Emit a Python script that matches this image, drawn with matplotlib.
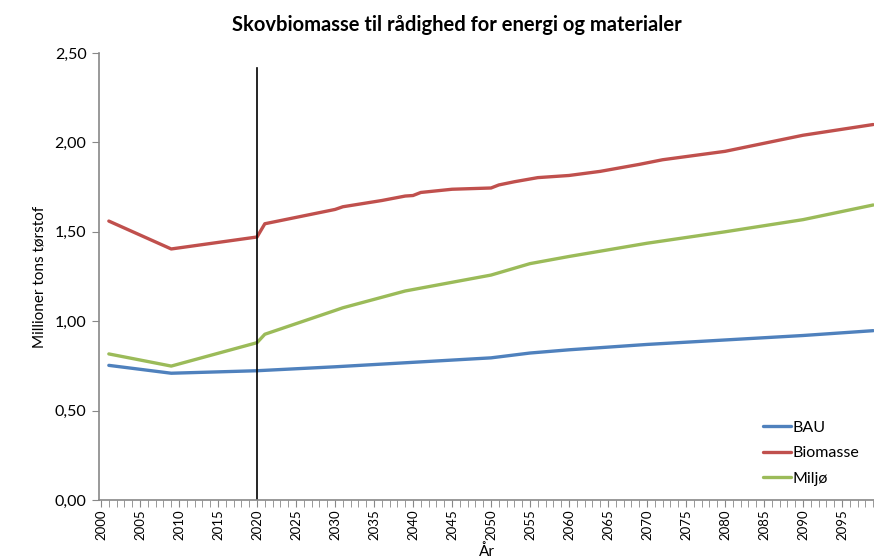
import matplotlib.pyplot as plt
from matplotlib.ticker import MultipleLocator, FuncFormatter

plt.rcParams['font.family'] = ['Lato', 'DejaVu Sans']

# BAU
bau_years = [2001, 2009, 2020, 2030, 2040, 2050, 2055, 2060, 2070, 2080, 2090, 2099]
bau_vals = [0.753, 0.709, 0.723, 0.745, 0.770, 0.795, 0.822, 0.840, 0.870, 0.895, 0.920, 0.947]

# Biomasse
bio_years = [2001, 2009, 2020, 2021, 2030, 2031, 2036, 2039, 2040, 2041, 2045, 2050,
             2051, 2053, 2056, 2060, 2064, 2069, 2072, 2080, 2085, 2090, 2099]
bio_vals = [1.560, 1.404, 1.471, 1.545, 1.625, 1.640, 1.675, 1.700, 1.703, 1.720, 1.738, 1.745,
            1.762, 1.780, 1.803, 1.815, 1.838, 1.877, 1.903, 1.950, 1.995, 2.040, 2.100]

# Miljø
mil_years = [2001, 2009, 2020, 2021, 2030, 2031, 2039, 2050, 2055, 2060, 2070, 2080, 2090, 2099]
mil_vals = [0.817, 0.749, 0.880, 0.927, 1.060, 1.075, 1.169, 1.258, 1.322, 1.362, 1.436, 1.500, 1.568, 1.650]

fig = plt.figure(figsize=(8.74, 5.60), dpi=100)
ax = fig.add_axes([99 / 874, 1 - 500 / 560, 1 - 99 / 874, 447 / 560])

ax.plot(bau_years, bau_vals, color='#4F81BD', lw=2.4, label='BAU', solid_capstyle='round')
ax.plot(bio_years, bio_vals, color='#C0504D', lw=2.4, label='Biomasse', solid_capstyle='round')
ax.plot(mil_years, mil_vals, color='#9BBB59', lw=2.4, label='Miljø', solid_capstyle='round')
ax.axvline(2020, ymin=0, ymax=0.966, color='black', lw=1.2)

ax.set_xlim(1999.74, 2099.1)
ax.set_ylim(0, 2.5)
ax.xaxis.set_major_locator(MultipleLocator(5))
ax.xaxis.set_minor_locator(MultipleLocator(1))
ax.yaxis.set_major_locator(MultipleLocator(0.5))
ax.yaxis.set_major_formatter(FuncFormatter(lambda v, p: f"{v:.2f}".replace('.', ',')))
ax.tick_params(axis='x', which='major', labelrotation=90, labelsize=9.5, length=5, color='#888888', pad=2)
ax.tick_params(axis='x', which='minor', length=5, color='#888888')
ax.tick_params(axis='y', labelsize=11.5, length=5, color='#888888', pad=4)

for s in ['top', 'right']:
    ax.spines[s].set_visible(False)
for s in ['left', 'bottom']:
    ax.spines[s].set_color('#888888')
    ax.spines[s].set_linewidth(1.2)

ax.set_title('Skovbiomasse til rådighed for energi og materialer', fontsize=14.5,
             fontweight='bold', x=0.462, pad=16)
ax.set_ylabel('Millioner tons tørstof', fontsize=11, labelpad=6)
ax.set_xlabel('År', fontsize=11, va='bottom')
ax.xaxis.set_label_coords(0.5, -59 / 447)

ax.legend(loc='lower right', bbox_to_anchor=(1.0, 0.0), frameon=False, fontsize=11.5,
          handlelength=1.8, handletextpad=0.1, labelspacing=0.7)

fig.savefig('out.png', dpi=100)
